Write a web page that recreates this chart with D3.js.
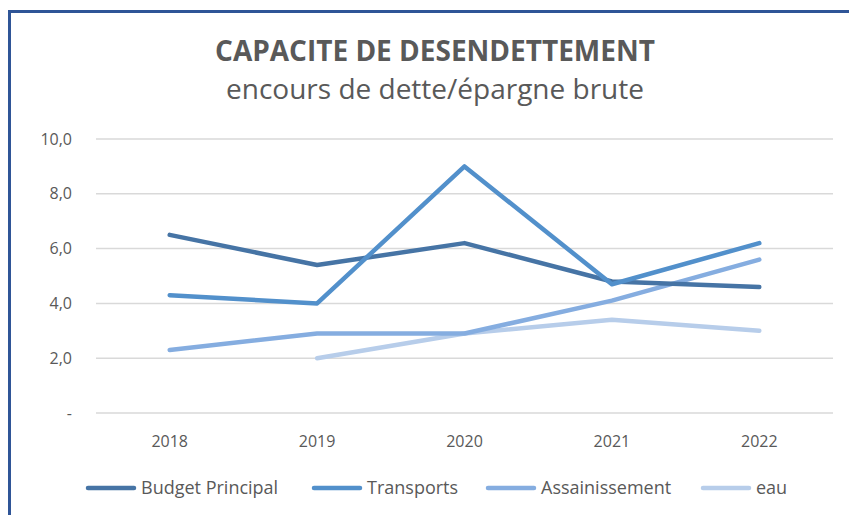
<!DOCTYPE html>
<meta charset="utf-8">
<html lang="fr">
<head>
  <script src="https://d3js.org/d3.v7.min.js"></script>
  <style>
    body { margin: 0; background: #fff; }
    svg text { fill: #595959; }
  </style>
</head>
<body>
<svg></svg>
<script>
// values
var years = ["2018", "2019", "2020", "2021", "2022"];
var budgetPrincipal = [6.5, 5.4, 6.2, 4.8, 4.6];
var transports = [4.3, 4.0, 9.0, 4.7, 6.2];
var assainissement = [2.3, 2.9, 2.9, 4.1, 5.6];
var eau = [null, 2.0, 2.9, 3.4, 3.0];
var yTicks = [0, 2, 4, 6, 8, 10];
var seriesNames = ["Budget Principal", "Transports", "Assainissement", "eau"];
var colors = ["#4674a5", "#5290cb", "#85ade0", "#b7cdea"];

let width = 849, height = 515;
let svg = d3.select("svg").attr("width", width).attr("height", height);

// frame (only left and top edges visible)
svg.append("line").attr("x1", 9.5).attr("x2", 9.5).attr("y1", 10).attr("y2", height)
  .style("stroke", "#2f5597").style("stroke-width", 3);
svg.append("line").attr("x1", 8).attr("x2", width).attr("y1", 11.5).attr("y2", 11.5)
  .style("stroke", "#2f5597").style("stroke-width", 3);

svg.append("text").attr("x", 435).attr("y", 61).attr("text-anchor", "middle")
  .style("font-family", "Open Sans").style("font-weight", "bold").style("font-size", "28px")
  .text("CAPACITE DE DESENDETTEMENT");
svg.append("text").attr("x", 435).attr("y", 99).attr("text-anchor", "middle")
  .style("font-family", "Open Sans").style("font-size", "28px")
  .text("encours de dette/épargne brute");

var x = d3.scaleBand().domain(years).range([96, 833]);
var y = d3.scaleLinear().domain([0, 10]).range([413, 139]);

// gridlines
svg.append("g").selectAll("line").data(yTicks).enter().append("line")
  .attr("x1", 96).attr("x2", 833)
  .attr("y1", d => y(d)).attr("y2", d => y(d))
  .style("stroke", "#d9d9d9").style("stroke-width", 1.5);

var fmt = d => d === 0 ? "-" : d3.format(".1f")(d).replace(".", ",");
svg.append("g").selectAll("text").data(yTicks).enter().append("text")
  .attr("x", 72).attr("y", d => y(d)).attr("dy", "0.35em")
  .attr("text-anchor", "end")
  .style("font-family", "Open Sans").style("font-size", "16px")
  .text(fmt);

svg.append("g").selectAll("text").data(years).enter().append("text")
  .attr("x", d => x(d) + x.bandwidth() / 2).attr("y", 447)
  .attr("text-anchor", "middle")
  .style("font-family", "Open Sans").style("font-size", "16px")
  .text(d => d);

var allSeries = [budgetPrincipal, transports, assainissement, eau];
var line = d3.line()
  .defined(d => d != null)
  .x((d, i) => x(years[i]) + x.bandwidth() / 2)
  .y(d => y(d));

// draw light ones first so dark lines sit on top like the picture
[3, 2, 0, 1].forEach(function(k) {
  svg.append("path").datum(allSeries[k])
    .attr("d", line)
    .style("fill", "none")
    .style("stroke", colors[k])
    .style("stroke-width", 4.5)
    .style("stroke-linejoin", "round")
    .style("stroke-linecap", "round");
});

// legend
var legendX = [88, 314, 488, 703];
var legend = svg.selectAll("g.legendEntry").data(seriesNames).enter()
  .append("g").attr("class", "legendEntry");
legend.append("line")
  .attr("x1", (d, i) => legendX[i]).attr("x2", (d, i) => legendX[i] + 46)
  .attr("y1", 488).attr("y2", 488)
  .style("stroke", (d, i) => colors[i]).style("stroke-width", 4.5)
  .style("stroke-linecap", "round");
legend.append("text")
  .attr("x", (d, i) => legendX[i] + 53).attr("y", 488).attr("dy", "0.35em")
  .style("font-family", "Open Sans").style("font-size", "18px")
  .text(d => d);
</script>
</body>
</html>
